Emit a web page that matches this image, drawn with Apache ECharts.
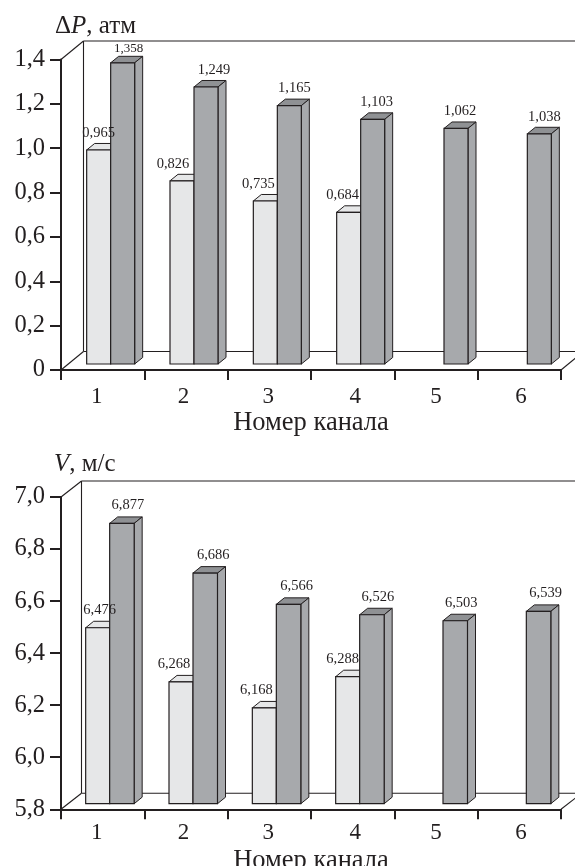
<!DOCTYPE html>
<html>
<head>
<meta charset="utf-8">
<style>html,body{margin:0;padding:0;background:#fff}#c{width:575px;height:866px}</style>
<script src="https://cdn.jsdelivr.net/npm/echarts@6/dist/echarts.min.js"></script>
</head>
<body>
<div id="c"></div>
<script>
const categories = ['1','2','3','4','5','6'];
const pressureTicks = ['0','0,2','0,4','0,6','0,8','1,0','1,2','1,4'];
const pressureLight = [0.965,0.826,0.735,0.684,null,null];
const pressureDark  = [1.358,1.249,1.165,1.103,1.062,1.038];
const velocityLight = [6.476,6.268,6.168,6.288,null,null];
const velocityDark  = [6.877,6.686,6.566,6.526,6.503,6.539];
const xTitle = 'Номер канала';

const INK='#231f20', LIGHT='#e6e7e8', DARK='#a7a9ac', DARKTOP='#8f9194', FONT='"Liberation Serif",serif';
const catNudge=[-6,-2.5,-1,2.7,0,1.7];

const charts=[
 {light:pressureLight,dark:pressureDark,min:0,max:1.4,top:59.5,height:310.5,
  lift:6,bx:[-16,8,32],back:[22.5,-18.5],labelLift:17,
  lightShift:[0,-9,-7,-6],darkShift:[6,8,5,4,4,5],nameGap:40,labelMargin:15,firstDarkSmall:true},
 {light:velocityLight,dark:velocityDark,min:5.8,max:7.0,top:497,height:312.3,
  lift:5.6,bx:[-17,7,31.5],back:[20.5,-16],labelLift:18,
  lightShift:[2,-7,-8,-5],darkShift:[6,8,8,6,6,7],nameGap:38,labelMargin:12,firstDarkSmall:false}
];
const fmt=v=>v.toFixed(3).replace('.',',');
const pts=d=>d.map((v,i)=>[i,v]).filter(p=>p[1]!==null);
const lineStyle=(w)=>({stroke:INK,lineWidth:w||1.2,fill:null});

function frame(cfg){return function(params,api){
  const c=params.coordSys, [dx,dy]=cfg.back, L=c.x,R=c.x+c.width,T=c.y,B=c.y+c.height;
  const line=(a,b,d,e)=>({type:'line',shape:{x1:a,y1:b,x2:d,y2:e},style:lineStyle(1.1)});
  return {type:'group',children:[
    line(L,T,L+dx,T+dy),line(L+dx,T+dy,R+dx,T+dy),line(L+dx,T+dy,L+dx,B+dy),
    line(L,B,L+dx,B+dy),line(L+dx,B+dy,R+dx,B+dy),line(R,B,R+dx,B+dy)
  ]};
}}
function bars(cfg,idxA,idxB,isDark){return function(params,api){
  const i=api.value(0), v=api.value(1);
  const p=api.coord([i,v]), base=api.coord([i,cfg.min])[1]-cfg.lift, top=p[1]-cfg.lift;
  const x0=p[0]+cfg.bx[idxA], x1=p[0]+cfg.bx[idxB], dx=8, dy=-6.5;
  const kids=[];
  kids.push({type:'polygon',shape:{points:[[x0,top],[x0+dx,top+dy],[x1+dx,top+dy],[x1,top]]},
    style:{fill:isDark?DARKTOP:LIGHT,stroke:INK,lineWidth:1}});
  if(isDark) kids.push({type:'polygon',shape:{points:[[x1,top],[x1+dx,top+dy],[x1+dx,base+dy],[x1,base]]},
    style:{fill:DARK,stroke:INK,lineWidth:1}});
  kids.push({type:'rect',shape:{x:x0,y:top,width:x1-x0,height:base-top},
    style:{fill:isDark?DARK:LIGHT,stroke:INK,lineWidth:1.2}});
  return {type:'group',children:kids};
}}
function labels(cfg,idxA,idxB,shift,small){return function(params,api){
  const i=api.value(0), v=api.value(1), p=api.coord([i,v]);
  const cx=p[0]+(cfg.bx[idxA]+cfg.bx[idxB])/2+shift[i];
  const tiny=small&&i===0;
  return {type:'text',style:{x:cx,y:p[1]-cfg.lift-(tiny?14:cfg.labelLift),text:fmt(v),
    font:(tiny?'13px ':'14.5px ')+FONT,fill:INK,textAlign:'center',textVerticalAlign:'middle'}};
}}

const grid=[],xAxis=[],yAxis=[],series=[];
charts.forEach((cfg,k)=>{
  grid.push({left:61,right:14,top:cfg.top,height:cfg.height,outerBoundsMode:'none',containLabel:false});
  xAxis.push({gridIndex:k,type:'category',
    data:categories.map((c,i)=>({value:c,textStyle:{padding:[0,Math.max(0,-catNudge[i])*2,0,Math.max(0,catNudge[i])*2]}})),
    name:xTitle,nameLocation:'middle',nameGap:cfg.nameGap,
    nameTextStyle:{fontFamily:FONT,fontSize:26.5,color:INK},
    axisLine:{onZero:false,lineStyle:{color:INK,width:2}},
    axisTick:{show:true,alignWithLabel:false,length:10,lineStyle:{color:INK,width:2}},
    axisLabel:{show:true,interval:0,margin:cfg.labelMargin,fontFamily:FONT,fontSize:23,color:INK},
    splitLine:{show:false}});
  yAxis.push({gridIndex:k,type:'value',min:cfg.min,max:cfg.max,interval:0.2,
    axisLine:{show:true,onZero:false,lineStyle:{color:INK,width:2}},
    axisTick:{show:true,length:11,lineStyle:{color:INK,width:2}},
    axisLabel:{margin:16,fontFamily:FONT,fontSize:24.5,color:INK,padding:[3,0,0,0],
      formatter:v=>k===0&&v===0?pressureTicks[0]:v.toFixed(1).replace('.',',')},
    splitLine:{show:false}});
  const common={type:'custom',xAxisIndex:k,yAxisIndex:k,coordinateSystem:'cartesian2d',clip:false,silent:true,animation:false};
  series.push(Object.assign({},common,{data:[[0,cfg.min]],renderItem:frame(cfg),z:1}));
  series.push(Object.assign({},common,{data:pts(cfg.light),renderItem:bars(cfg,0,1,false),z:2}));
  series.push(Object.assign({},common,{data:pts(cfg.dark),renderItem:bars(cfg,1,2,true),z:3}));
  series.push(Object.assign({},common,{data:pts(cfg.light),renderItem:labels(cfg,0,1,cfg.lightShift,false),z:4}));
  series.push(Object.assign({},common,{data:pts(cfg.dark),renderItem:labels(cfg,1,2,cfg.darkShift,cfg.firstDarkSmall),z:4}));
});
const tStyle={fontFamily:FONT,fontSize:25,fontWeight:'normal',color:INK,
  rich:{n:{fontFamily:FONT,fontSize:25,fontWeight:'normal',color:INK},i:{fontFamily:FONT,fontSize:25,fontWeight:'normal',fontStyle:'italic',color:INK}}};
const chart=echarts.init(document.getElementById('c'),null,{renderer:'canvas'});
chart.setOption({animation:false,backgroundColor:'#fff',
  title:[
    {text:'{n|Δ}{i|P}{n|, атм}',left:55,top:14,padding:0,textStyle:tStyle},
    {text:'{i|V}{n|, м/с}',left:54,top:452,padding:0,textStyle:tStyle}
  ],
  grid,xAxis,yAxis,series});
</script>
</body>
</html>
